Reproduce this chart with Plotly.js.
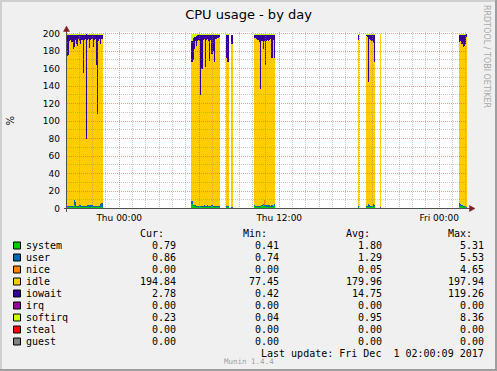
<!DOCTYPE html>
<html><head><meta charset="utf-8">
<script src="https://cdn.plot.ly/plotly-3.0.1.min.js"></script>
<style>html,body{margin:0;padding:0;background:#F0F0F0;}#chart{width:497px;height:371px;}</style>
</head><body><div id="chart"></div>
<script>
// ---- data (5-minute samples; slot start times) ----
const times = [
'2017-11-29 20:05','2017-11-29 20:10','2017-11-29 20:15','2017-11-29 20:20','2017-11-29 20:25','2017-11-29 20:30','2017-11-29 20:35','2017-11-29 20:40','2017-11-29 20:45','2017-11-29 20:50','2017-11-29 20:55',
'2017-11-29 21:00','2017-11-29 21:05','2017-11-29 21:10','2017-11-29 21:15','2017-11-29 21:20','2017-11-29 21:25','2017-11-29 21:30','2017-11-29 21:35','2017-11-29 21:40','2017-11-29 21:45','2017-11-29 21:50','2017-11-29 21:55',
'2017-11-29 22:00','2017-11-29 22:05','2017-11-29 22:10','2017-11-29 22:15','2017-11-29 22:20','2017-11-29 22:25','2017-11-29 22:30','2017-11-29 22:35','2017-11-29 22:40',
'2017-11-30 05:25','2017-11-30 05:30','2017-11-30 05:35','2017-11-30 05:40','2017-11-30 05:45','2017-11-30 05:50','2017-11-30 05:55',
'2017-11-30 06:00','2017-11-30 06:05','2017-11-30 06:10','2017-11-30 06:15','2017-11-30 06:20','2017-11-30 06:25','2017-11-30 06:30','2017-11-30 06:35','2017-11-30 06:40','2017-11-30 06:45','2017-11-30 06:50','2017-11-30 06:55',
'2017-11-30 07:00','2017-11-30 07:05','2017-11-30 07:10','2017-11-30 07:15','2017-11-30 07:20','2017-11-30 07:25','2017-11-30 07:30',
'2017-11-30 08:00','2017-11-30 08:05','2017-11-30 08:10',
'2017-11-30 08:25',
'2017-11-30 10:05','2017-11-30 10:10','2017-11-30 10:15','2017-11-30 10:20','2017-11-30 10:25','2017-11-30 10:30','2017-11-30 10:35','2017-11-30 10:40','2017-11-30 10:45','2017-11-30 10:50','2017-11-30 10:55',
'2017-11-30 11:00','2017-11-30 11:05','2017-11-30 11:10','2017-11-30 11:15','2017-11-30 11:20','2017-11-30 11:25','2017-11-30 11:30','2017-11-30 11:35',
'2017-11-30 17:55',
'2017-11-30 18:30','2017-11-30 18:35','2017-11-30 18:40','2017-11-30 18:45','2017-11-30 18:50','2017-11-30 18:55','2017-11-30 19:00','2017-11-30 19:05',
'2017-11-30 19:35',
'2017-12-01 01:30','2017-12-01 01:35','2017-12-01 01:40','2017-12-01 01:45','2017-12-01 01:50','2017-12-01 01:55','2017-12-01 02:00'
];
const system = [
1.5,1.5,1.6,1.4,1.5,1.8,4.5,2.0,1.6,1.5,1.4,1.5,1.6,1.5,1.5,1.4,1.5,1.4,1.5,1.5,1.6,1.5,1.5,1.5,1.4,1.5,1.5,1.5,1.5,1.5,1.6,2.0,
5.31,3.0,2.5,2.5,2.2,2.0,1.8,2.0,1.8,1.8,1.8,2.0,1.8,1.7,2.2,1.8,1.8,1.7,2.5,1.8,1.8,1.7,1.8,1.7,1.8,1.7,
1.8,1.8,1.8,
1.0,
2.5,1.8,1.8,1.8,1.8,1.8,2.0,2.5,4.0,3.0,2.0,1.8,1.8,1.8,1.8,1.8,2.0,1.8,3.0,
1.5,
2.0,2.0,2.0,2.0,2.0,2.0,2.0,2.5,
0.41,
3.0,3.0,2.5,2.0,1.8,1.5,0.79
];
const user = [
0.9,0.9,1.0,0.9,1.0,0.9,5.53,5.0,1.2,1.0,0.9,3.0,2.5,1.0,0.9,0.9,1.0,0.9,2.5,2.5,2.5,2.4,2.5,1.0,0.9,1.0,1.0,0.9,1.0,1.0,3.0,4.0,
3.7,1.5,1.2,1.0,1.0,1.0,1.0,1.2,1.0,1.0,1.5,1.5,1.5,1.0,1.5,1.5,1.0,1.0,1.2,1.0,1.0,1.5,1.0,1.0,1.0,1.5,
1.0,1.0,1.0,
0.8,
1.5,1.0,1.0,1.0,1.2,1.0,1.0,1.0,1.0,1.5,2.0,2.0,2.0,2.0,2.0,1.5,1.5,1.5,2.0,
0.8,
1.0,1.0,3.0,1.5,1.0,1.0,3.0,1.0,
0.74,
3.0,2.0,1.0,1.0,1.0,1.0,0.86
];
const nice = [
0,0,0,0,0,0,0,0,0,0,0,0,0,0,0,0,0,0,0,0,0,0,0,0,0,0,0,0,0,0,0,0,
0,0,0,0,0,0,0,0,0,0,0,0,0,0,0,0,0,0,0,0,0,0,0,0,0,0,
0,0,0,
0,
0,0,0,0,0,0,0,0,0,4.65,0,0,0,0,0,0,0,0,0,
0,
0,0,0,0,0,0,0,0,
0,
0,0,0,0,0,0,0
];
const idle = [
171.6,172.6,189.4,190.7,187.5,179.3,174.0,186.0,185.2,183.5,191.7,187.5,183.9,190.5,152.6,190.7,191.5,77.45,189.0,190.0,179.9,189.1,190.0,182.5,190.7,191.5,161.5,105.6,189.5,191.5,183.4,188.0,
158.0,165.5,178.3,187.5,182.8,189.0,190.2,188.8,127.2,157.2,189.7,190.5,158.7,190.3,190.3,188.7,166.2,190.3,173.3,177.2,164.2,190.8,191.2,192.3,192.2,192.8,
169.2,164.2,164.2,
186.2,
191.0,192.2,191.2,190.2,190.0,187.2,134.0,188.5,177.0,181.85,160.0,188.2,189.2,188.2,189.2,190.7,168.5,189.7,167.0,
190.7,
194.0,193.0,140.0,190.5,190.0,188.0,184.0,164.5,
197.94,
184.0,187.0,184.5,182.0,183.2,185.5,194.84
];
const iowait = [
24,23,6,5,8,16,14,5,10,12,4,6,10,5,43,5,4,119.26,5,4,14,5,4,13,5,4,34,90,6,4,10,4,
24.5,24.5,13.5,5.5,11.5,6,5,6,68,38,5,4,36,5,4,6,29,5,21,18,31,4,4,3,3,2,
26,31,31,
10,
3,3,4,5,5,8,61,6,16,7,34,6,5,6,5,4,26,5,26,
5,
1,2,53,4,5,7,9,30,
0.42,
8,6,10,13,12,10,2.78
];
const softirq = [
1.5,1.3,1.2,1.4,1.3,1.2,1.5,1.3,1.2,1.3,1.4,1.3,1.2,1.3,1.3,1.4,1.3,0.9,1.3,1.2,1.3,1.4,1.3,1.2,1.3,1.3,1.4,1.3,1.2,1.3,1.3,1.5,
8.36,5.0,4.0,3.0,2.0,1.3,1.2,1.3,1.4,1.3,1.2,1.3,1.3,1.2,1.3,1.4,1.3,1.2,1.3,1.3,1.2,1.3,1.4,1.3,1.2,1.3,
1.3,1.3,1.3,
0.04,
1.3,1.2,1.3,1.4,1.3,1.2,1.3,1.3,1.4,1.3,1.2,1.3,1.3,1.4,1.3,1.2,1.3,1.3,1.4,
1.0,
1.3,1.2,1.3,1.4,1.3,1.2,1.3,1.3,
0.3,
1.5,1.3,1.3,1.2,1.3,1.3,0.23
];
const seriesNames  = ['system','user','nice','idle','iowait','irq','softirq','steal','guest'];
const seriesColors = ['#00CC00','#0066B3','#FF8000','#FFCC00','#330099','#990099','#CCFF00','#FF0000','#808080'];
const curVals = [0.79, 0.86, 0.00, 194.84, 2.78, 0.00, 0.23, 0.00, 0.00];
const minVals = [0.41, 0.74, 0.00, 77.45, 0.42, 0.00, 0.04, 0.00, 0.00];
const avgVals = [1.80, 1.29, 0.05, 179.96, 14.75, 0.00, 0.95, 0.00, 0.00];
const maxVals = [5.31, 5.53, 4.65, 197.94, 119.26, 0.00, 8.36, 0.00, 0.00];
const xTickVals = ['2017-11-30 00:00','2017-11-30 12:00','2017-12-01 00:00'];
const xTickText = ['Thu 00:00','Thu 12:00','Fri 00:00'];
const yTickVals = [0,20,40,60,80,100,120,140,160,180,200];
const xRange = ['2017-11-29 20:05','2017-12-01 02:05'];
const lastUpdate = 'Last update: Fri Dec\u00A0\u00A01 02:00:09 2017';

// ---- geometry (plot area 400 x 177 px; 0.875 px per unit) ----
const W = 497, H = 371, ML = 67, MR = 30, MT = 32, MB = 162;
const PW = W - ML - MR, PH = H - MT - MB;
const px = x => (x - ML) / PW;
const py = y => (H - MB - y) / PH;
const pxPerUnit = 0.875;
const yRange = [-0.5 / pxPerUnit, 200 + 1.5 / pxPerUnit];

function rgba(hex) {
  const n = parseInt(hex.slice(1), 16);
  return 'rgba(' + (n >> 16 & 255) + ',' + (n >> 8 & 255) + ',' + (n & 255) + ',0.999)';
}
const stackData = {system: system, user: user, nice: nice, idle: idle, iowait: iowait, softirq: softirq};
const traces = [];
seriesNames.forEach((name, i) => {
  if (!stackData[name]) return;
  traces.push({
    type: 'bar', x: times, y: stackData[name], width: 300000, offset: 0,
    marker: {color: rgba(seriesColors[i]), line: {width: 0}},
    xaxis: 'x', yaxis: 'y', hoverinfo: 'skip', showlegend: false, name: name
  });
});
// carrier for the grid subplot drawn above the data
traces.push({type: 'scatter', mode: 'markers', x: [xTickVals[0]], y: [null], xaxis: 'x2', yaxis: 'y2',
  marker: {opacity: 0}, hoverinfo: 'skip', showlegend: false});

const sans = 'DejaVu Sans', mono = 'DejaVu Sans Mono';
const minorGrid = 'rgba(140,140,140,0.5)', majorGrid = 'rgba(222,80,80,0.55)';
const annotations = [];
const shapes = [];
function txt(text, x, y, anchor, font, extra) {
  annotations.push(Object.assign({text: text, x: px(x), y: py(y), xref: 'paper', yref: 'paper',
    xanchor: anchor, yanchor: 'middle', showarrow: false, borderpad: 0, borderwidth: 0, font: font}, extra || {}));
}
const legFont = {family: mono, size: 10, color: '#000'};
const colRight = [176.3, 279.3, 381.6, 483.9];
const headers = ['Cur:', 'Min:', 'Avg:', 'Max:'];
headers.forEach((h, j) => txt(h, colRight[j] - 12, 233.8, 'right', legFont));
const cols = [curVals, minVals, avgVals, maxVals];
seriesNames.forEach((name, i) => {
  const yc = 245.5 + 12 * i;
  txt(name, 26, yc, 'left', legFont);
  cols.forEach((c, j) => txt(c[i].toFixed(2), colRight[j], yc, 'right', legFont));
  shapes.push({type: 'rect', xref: 'paper', yref: 'paper', x0: px(13.5), x1: px(20.5), y0: py(yc + 3.5), y1: py(yc - 3.5),
    fillcolor: seriesColors[i], line: {color: '#000', width: 1}, layer: 'above'});
});
txt(lastUpdate, 483.9, 353.5, 'right', legFont);
txt('Munin 1.4.4', 248.5, 361, 'center', {family: mono, size: 7.5, color: '#A0A0A0'});
txt('RRDTOOL / TOBI OETIKER', 487, 56, 'center', {family: sans, size: 8, color: '#A8A8A8'}, {textangle: 90});
txt('%', 10, 120.5, 'center', {family: sans, size: 10, color: '#000'}, {textangle: -90});

// canvas, frame, axes, arrows
shapes.push({type: 'rect', xref: 'paper', yref: 'paper', x0: 0, x1: 1, y0: 0, y1: 1, fillcolor: '#FFFFFF', line: {width: 0}, layer: 'below'});
const frame = [[0, 2, 0, H, '#CFCFCF'], [0, W, 0, 2, '#CFCFCF'], [W - 2, W, 0, H, '#9E9E9E'], [0, W, H - 2, H, '#9E9E9E']];
frame.forEach(f => shapes.push({type: 'rect', xref: 'paper', yref: 'paper', x0: px(f[0]), x1: px(f[1]), y0: py(f[3]), y1: py(f[2]),
  fillcolor: f[4], line: {width: 0}, layer: 'above'}));
const axisColor = '#505050', arrowColor = '#7F1F1F';
shapes.push({type: 'line', xref: 'paper', yref: 'paper', x0: px(66.5), x1: px(66.5), y0: py(212), y1: py(29), line: {color: axisColor, width: 1}, layer: 'above'});
shapes.push({type: 'line', xref: 'paper', yref: 'paper', x0: px(64), x1: px(470), y0: py(208.5), y1: py(208.5), line: {color: axisColor, width: 1}, layer: 'above'});
function tri(pts, color) {
  const d = 'M' + pts.map(p => px(p[0]) + ',' + py(p[1])).join('L') + 'Z';
  shapes.push({type: 'path', xref: 'paper', yref: 'paper', path: d, fillcolor: color, line: {color: color, width: 0.5}, layer: 'above'});
}
tri([[66.5, 26], [63.5, 31.5], [69.5, 31.5]], arrowColor);
tri([[475, 208.5], [469.5, 205.5], [469.5, 211.5]], arrowColor);

const layout = {
  width: W, height: H, autosize: false,
  margin: {l: ML, r: MR, t: MT, b: MB, pad: 0},
  paper_bgcolor: '#F0F0F0', plot_bgcolor: 'rgba(0,0,0,0)',
  barmode: 'stack', bargap: 0, bargroupgap: 0, hovermode: false, showlegend: false,
  title: {text: 'CPU usage - by day', font: {family: sans, size: 13, color: '#000'},
    x: 0.5, xref: 'container', xanchor: 'center', y: (H - 14) / H, yref: 'container', yanchor: 'middle'},
  xaxis: {type: 'date', range: xRange, domain: [0, 1], anchor: 'y', showgrid: false, zeroline: false, showline: false,
    tickmode: 'array', tickvals: xTickVals, ticktext: xTickText, ticks: '', tickfont: {family: sans, size: 9, color: '#000'},
    ticklabelstandoff: 2, fixedrange: true},
  yaxis: {range: yRange, domain: [0, 1], anchor: 'x', showgrid: false, zeroline: false, showline: false,
    tickmode: 'array', tickvals: yTickVals, ticks: '', tickfont: {family: sans, size: 9, color: '#000'},
    ticklabelstandoff: 6, fixedrange: true},
  xaxis2: {type: 'date', range: xRange, domain: [0, 1], anchor: 'y2', showticklabels: false, ticks: '', zeroline: false, showline: false,
    showgrid: true, tickmode: 'linear', dtick: 21600000, tick0: '2017-11-30 00:00', gridcolor: majorGrid, gridwidth: 1, griddash: '1px,1px',
    minor: {tickmode: 'linear', dtick: 3600000, tick0: '2017-11-30 00:00', showgrid: true, gridcolor: minorGrid, gridwidth: 1, griddash: '1px,1px', ticks: ''},
    fixedrange: true},
  yaxis2: {range: yRange, domain: [0, 1], anchor: 'x2', showticklabels: false, ticks: '', zeroline: false, showline: false,
    showgrid: true, tickmode: 'linear', tick0: 0, dtick: 20, gridcolor: majorGrid, gridwidth: 1, griddash: '1px,1px',
    minor: {tickmode: 'linear', tick0: 0, dtick: 10, showgrid: true, gridcolor: minorGrid, gridwidth: 1, griddash: '1px,1px', ticks: ''},
    fixedrange: true},
  annotations: annotations, shapes: shapes
};
Plotly.newPlot('chart', traces, layout, {displayModeBar: false, staticPlot: false});
</script></body></html>
